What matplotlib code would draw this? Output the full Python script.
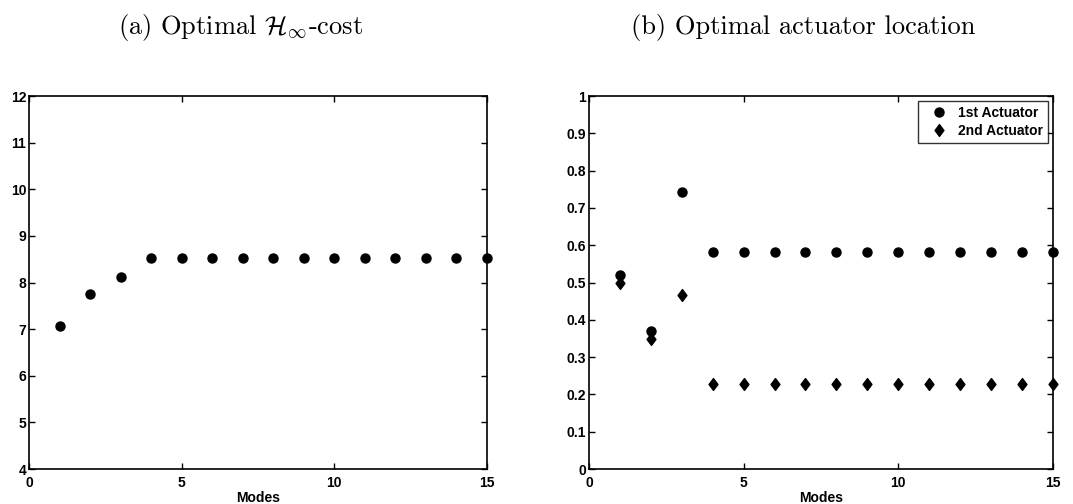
import matplotlib.pyplot as plt
from matplotlib.path import Path
import numpy as np

# Number of retained modes
modes = np.arange(1, 16)

# Optimal H-infinity cost per number of modes
hinf_cost = [7.07, 7.76, 8.12, 8.53, 8.53, 8.53, 8.53, 8.53,
             8.53, 8.53, 8.53, 8.53, 8.53, 8.53, 8.53]

# Optimal actuator locations
act1_loc = [0.52, 0.37, 0.742, 0.583, 0.583, 0.583, 0.583, 0.583,
            0.583, 0.583, 0.583, 0.583, 0.583, 0.583, 0.583]
act2_loc = [0.498, 0.348, 0.466, 0.229, 0.229, 0.229, 0.229, 0.229,
            0.229, 0.229, 0.229, 0.229, 0.229, 0.229, 0.229]

x_ticks = [0, 5, 10, 15]
cost_ticks = list(range(4, 13))
loc_ticks = [0, 0.1, 0.2, 0.3, 0.4, 0.5, 0.6, 0.7, 0.8, 0.9, 1]
loc_labels = ["0", "0.1", "0.2", "0.3", "0.4", "0.5", "0.6", "0.7", "0.8", "0.9", "1"]

# matlab-ish diamond, a bit wider than matplotlib's 'd'
diamond = Path([(0, 1), (0.75, 0), (0, -1), (-0.75, 0), (0, 1)],
               [Path.MOVETO, Path.LINETO, Path.LINETO, Path.LINETO, Path.CLOSEPOLY])


def style_axes(ax):
    ax.set_xlim(0, 15)
    ax.set_xticks(x_ticks)
    ax.tick_params(direction="in", length=4, width=1, top=True, right=True,
                   labelsize=10)
    ax.tick_params(axis="x", pad=5)
    ax.tick_params(axis="y", pad=2)
    for lab in ax.get_xticklabels() + ax.get_yticklabels():
        lab.set_fontweight("bold")
    for sp in ax.spines.values():
        sp.set_linewidth(1.2)
    ax.set_xlabel("Modes", fontsize=10, fontweight="bold", labelpad=1)


def main():
    plt.rcParams["font.family"] = ["Liberation Sans", "DejaVu Sans"]
    plt.rcParams["mathtext.fontset"] = "cm"

    fig = plt.figure(figsize=(10.73, 5.04), dpi=100)
    ax1 = fig.add_axes([0.0270, 0.0694, 0.4269, 0.7401])
    ax2 = fig.add_axes([0.5489, 0.0694, 0.4324, 0.7401])

    # (a) cost
    ax1.plot(modes, hinf_cost, "o", color="black", markersize=6.5, clip_on=False)
    ax1.set_ylim(4, 12)
    ax1.set_yticks(cost_ticks)
    style_axes(ax1)

    # (b) locations
    ax2.plot(modes, act1_loc, "o", color="black", markersize=6.5,
             clip_on=False, label="1st Actuator")
    ax2.plot(modes, act2_loc, marker=diamond, linestyle="none", color="black",
             markersize=8.5, clip_on=False, label="2nd Actuator")
    ax2.set_ylim(0, 1)
    ax2.set_yticks(loc_ticks)
    ax2.set_yticklabels(loc_labels)
    style_axes(ax2)
    leg = ax2.legend(loc="upper right", bbox_to_anchor=(0.989, 0.987),
                     borderaxespad=0, prop={"weight": "bold", "size": 10},
                     frameon=True, fancybox=False, edgecolor="black",
                     borderpad=0.35, handletextpad=0.2, labelspacing=0.3,
                     handlelength=2.3)
    leg.get_frame().set_linewidth(1.0)

    fig.text(0.224, 0.946, r"(a) Optimal $\mathcal{H}_\infty$-cost",
             family="cmr10", fontsize=19, ha="center", va="center")
    fig.text(0.749, 0.946, "(b) Optimal actuator location",
             family="cmr10", fontsize=19, ha="center", va="center")

    fig.savefig("out.png", dpi=100)


if __name__ == "__main__":
    main()
